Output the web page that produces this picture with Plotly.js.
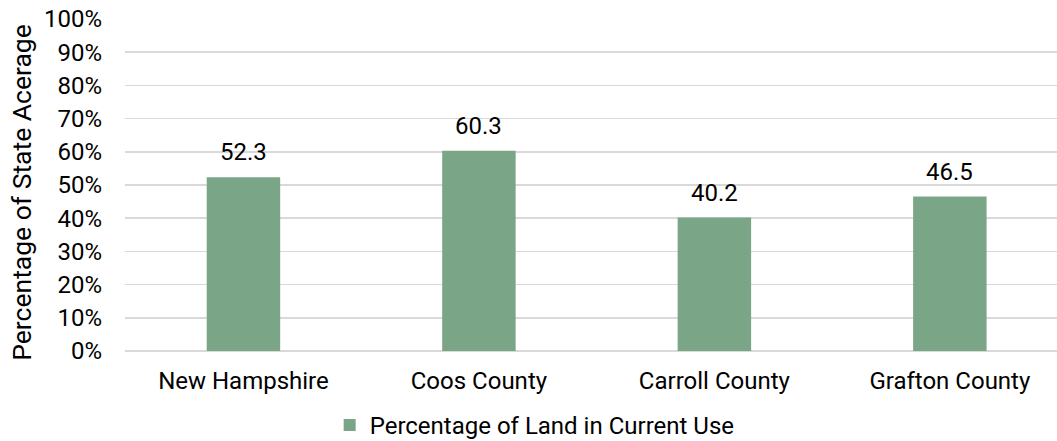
<!DOCTYPE html>
<html>
<head>
<meta charset="utf-8">
<script src="https://cdn.plot.ly/plotly-3.0.1.min.js"></script>
<style>
html,body{margin:0;padding:0;background:#fff;}
#chart{width:1057px;height:441px;}
</style>
</head>
<body>
<div id="chart"></div>
<script>
// Data
const categories = ["New Hampshire", "Coos County", "Carroll County", "Grafton County"];
const values = [52.3, 60.3, 40.2, 46.5];
const seriesName = "Percentage of Land in Current Use";
const yTitle = "Percentage of State Acerage";
const yTickVals = [0, 10, 20, 30, 40, 50, 60, 70, 80, 90, 100];
const yTickText = ["0%", "10%", "20%", "30%", "40%", "50%", "60%", "70%", "80%", "90%", "100%"];

const FONT = "Roboto, 'Noto Sans', sans-serif";
const FS = 24;
const barColor = "#7aa587";

const trace = {
  type: "bar",
  x: categories,
  y: values,
  name: seriesName,
  width: 0.312,
  marker: {color: barColor},
  showlegend: true,
  hoverinfo: "x+y"
};

const annotations = categories.map((c, i) => ({
  x: c,
  y: values[i],
  xref: "x",
  yref: "y",
  text: values[i].toFixed(1),
  showarrow: false,
  yanchor: "middle",
  yshift: 25,
  font: {family: FONT, size: FS, color: "#000"}
}));

// y-axis title (placed as rotated annotation to match reference offset)
annotations.push({
  xref: "paper",
  yref: "paper",
  x: (22 - 125) / 932,
  y: (351.5 - 193) / 332.5,
  xanchor: "center",
  yanchor: "middle",
  text: yTitle,
  textangle: -90,
  showarrow: false,
  font: {family: FONT, size: 26.5, color: "#000"}
});

const layout = {
  width: 1057,
  height: 441,
  margin: {l: 125, r: 0, t: 19, b: 89.5, pad: 0, autoexpand: false},
  paper_bgcolor: "#fff",
  plot_bgcolor: "#fff",
  font: {family: FONT, size: FS, color: "#000"},
  xaxis: {
    type: "category",
    range: [-0.503, 3.455],
    showgrid: false,
    showline: false,
    zeroline: false,
    ticks: "",
    ticklabelstandoff: 13,
    tickfont: {family: FONT, size: FS, color: "#000"},
    automargin: false,
    fixedrange: true
  },
  yaxis: {
    range: [0, 100],
    tickvals: yTickVals,
    ticktext: yTickText,
    showgrid: true,
    gridcolor: "#d9d9d9",
    gridwidth: 1.5,
    zeroline: true,
    zerolinecolor: "#d9d9d9",
    zerolinewidth: 1.5,
    showline: false,
    ticks: "",
    ticklabelstandoff: 22,
    tickfont: {family: FONT, size: FS, color: "#000"},
    automargin: false,
    fixedrange: true
  },
  showlegend: true,
  legend: {
    orientation: "h",
    x: 0.2196,
    xanchor: "left",
    y: -0.224,
    yanchor: "middle",
    font: {family: FONT, size: FS, color: "#000"},
    bgcolor: "rgba(0,0,0,0)"
  },
  annotations: annotations,
  bargap: 0.69
};

Plotly.newPlot("chart", [trace], layout, {displayModeBar: false, staticPlot: true});
</script>
</body>
</html>
